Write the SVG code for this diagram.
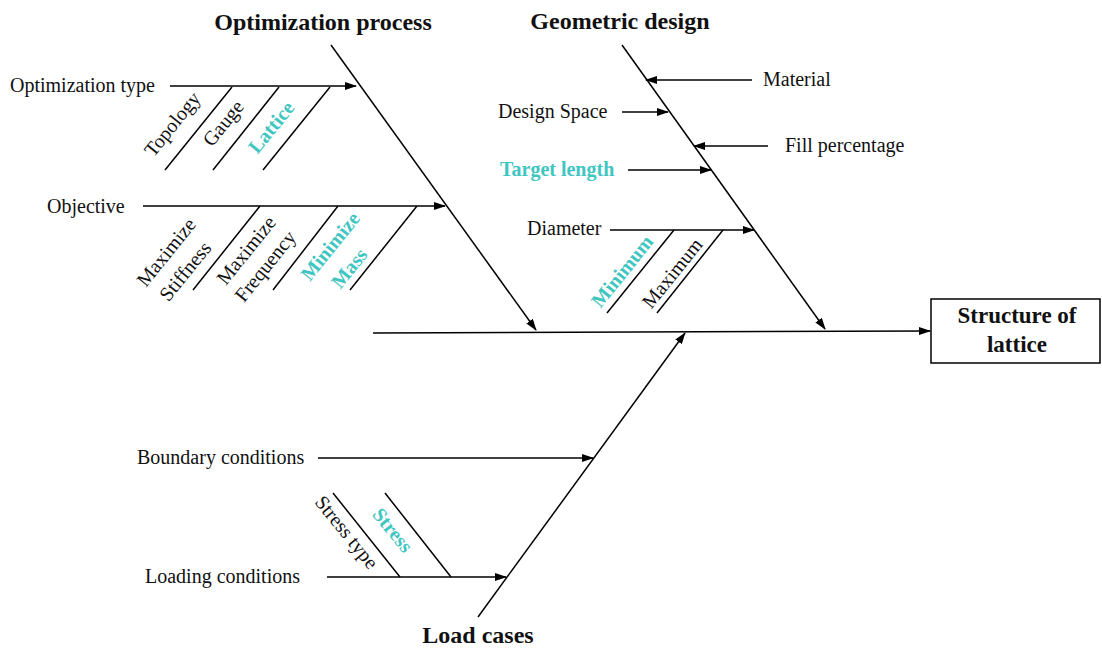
<svg xmlns="http://www.w3.org/2000/svg" width="1102" height="652" viewBox="0 0 1102 652">
<style>
.ln{stroke:#000;stroke-width:1.5;fill:none}
.ar{stroke:#000;stroke-width:1.5;fill:none;marker-end:url(#ah)}
.t{font-family:"Liberation Serif","Times New Roman",serif;font-size:20px;fill:#111}
.c{font-family:"Liberation Serif","Times New Roman",serif;font-size:20px;font-weight:bold;fill:#3fc6c1}
.h{font-family:"Liberation Serif","Times New Roman",serif;font-size:24px;font-weight:bold;fill:#111}
.b{font-family:"Liberation Serif","Times New Roman",serif;font-size:23px;font-weight:bold;fill:#111}
.r{text-anchor:middle;dominant-baseline:central}
</style>
<defs>
<marker id="ah" markerWidth="12" markerHeight="8" refX="11" refY="4" orient="auto" markerUnits="userSpaceOnUse">
<path d="M0,0 L12,4 L0,8 Z" fill="#000"/>
</marker>
</defs>
<rect width="1102" height="652" fill="#fff"/>
<g id="connectors">
<line class="ar" x1="373" y1="333" x2="930" y2="331"/>
<line class="ar" x1="331" y1="45" x2="536" y2="330"/>
<line class="ar" x1="622" y1="45" x2="825" y2="329"/>
<line class="ar" x1="478" y1="617" x2="685" y2="333"/>
<line class="ar" x1="170" y1="86" x2="356" y2="86"/>
<line class="ln" x1="232" y1="87" x2="165" y2="170"/>
<line class="ln" x1="279" y1="87" x2="213" y2="170"/>
<line class="ln" x1="330" y1="87" x2="263" y2="170"/>
<line class="ar" x1="143" y1="206" x2="445" y2="206"/>
<line class="ln" x1="260" y1="206" x2="193" y2="290"/>
<line class="ln" x1="338" y1="206" x2="273" y2="290"/>
<line class="ln" x1="417" y1="206" x2="350" y2="290"/>
<line class="ar" x1="752" y1="80" x2="646" y2="80"/>
<line class="ar" x1="622" y1="112" x2="668" y2="112"/>
<line class="ar" x1="768" y1="146" x2="694" y2="146"/>
<line class="ar" x1="628" y1="170" x2="711" y2="170"/>
<line class="ar" x1="610" y1="230" x2="754" y2="230"/>
<line class="ln" x1="674" y1="230" x2="607" y2="313"/>
<line class="ln" x1="723" y1="230" x2="657" y2="313"/>
<line class="ar" x1="318" y1="458" x2="593" y2="458"/>
<line class="ar" x1="327" y1="577" x2="506" y2="577"/>
<line class="ln" x1="333" y1="493" x2="400" y2="577"/>
<line class="ln" x1="385" y1="493" x2="451" y2="577"/>
</g>
<g id="optimization-process">
<text class="h" x="323" y="30" text-anchor="middle">Optimization process</text>
<text class="t" x="10" y="92">Optimization type</text>
<text class="t r" transform="translate(172,124) rotate(-51)">Topology</text>
<text class="t r" transform="translate(223,123) rotate(-51)">Gauge</text>
<text class="c r" transform="translate(271,127) rotate(-51)">Lattice</text>
<text class="t" x="47" y="213">Objective</text>
<text class="t r" transform="translate(166,252) rotate(-51)">Maximize</text>
<text class="t r" transform="translate(185,271) rotate(-51)">Stiffness</text>
<text class="t r" transform="translate(246,250) rotate(-51)">Maximize</text>
<text class="t r" transform="translate(265,266) rotate(-51)">Frequency</text>
<text class="c r" transform="translate(330,246) rotate(-51)">Minimize</text>
<text class="c r" transform="translate(349,268) rotate(-51)">Mass</text>
</g>
<g id="geometric-design">
<text class="h" x="620" y="29" text-anchor="middle">Geometric design</text>
<text class="t" x="763" y="86">Material</text>
<text class="t" x="498" y="118">Design Space</text>
<text class="t" x="785" y="152">Fill percentage</text>
<text class="c" x="500" y="176">Target length</text>
<text class="t" x="527" y="235">Diameter</text>
<text class="c r" transform="translate(622,271) rotate(-51)">Minimum</text>
<text class="t r" transform="translate(672,273) rotate(-51)">Maximum</text>
</g>
<g id="load-cases">
<text class="h" x="478" y="643" text-anchor="middle">Load cases</text>
<text class="t" x="137" y="464">Boundary conditions</text>
<text class="t" x="145" y="583">Loading conditions</text>
<text class="t r" transform="translate(347,532) rotate(51)">Stress type</text>
<text class="c r" transform="translate(393,530) rotate(51)">Stress</text>
</g>
<g id="structure-of-lattice">
<rect x="931" y="299" width="169" height="64" fill="#fff" stroke="#000" stroke-width="1.5"/>
<text class="b" x="1017" y="323" text-anchor="middle">Structure of</text>
<text class="b" x="1017" y="352" text-anchor="middle">lattice</text>
</g>
</svg>
